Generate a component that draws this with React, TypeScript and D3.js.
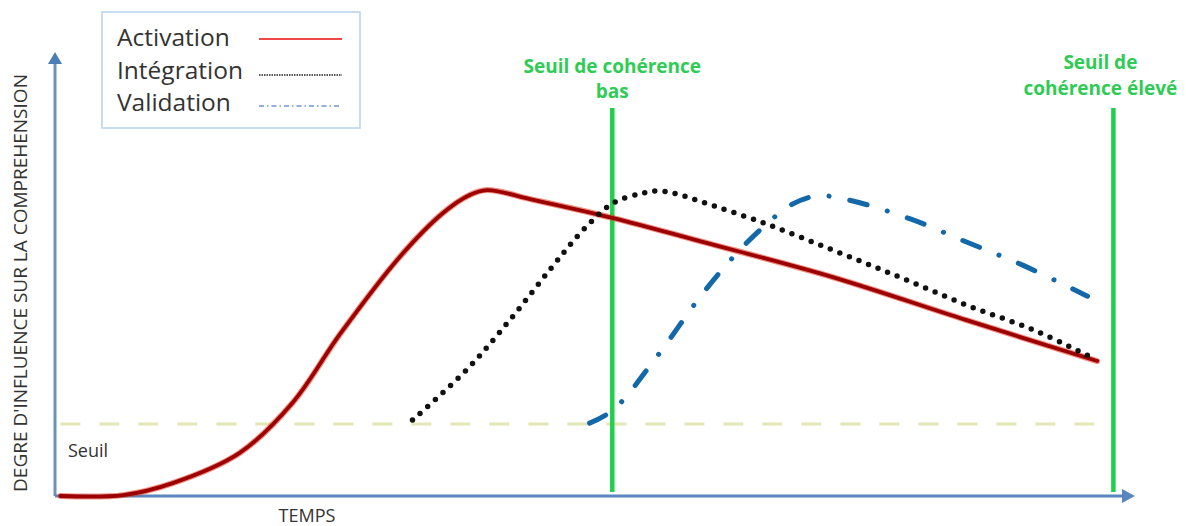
import React from "react";
import * as d3 from "d3";

// Time (x) and degree of influence (y), both in 0..100 units
const activationX = [0.5, 6.3, 10.9, 17.1, 22.0, 26.4, 31.9, 35.9, 38.4, 40.0, 44.3, 51.7, 59.7, 72.0, 84.4, 96.5];
const activationY = [0, 0.2, 2.9, 9.7, 21.0, 36.5, 53.8, 63.7, 67.8, 68.9, 66.7, 62.6, 57.4, 49.3, 39.6, 30.4];

const integrationX = [33.1, 38.1, 42.1, 45.8, 48.9, 51.7, 54.4, 56.0, 57.6, 59.7, 65.6, 72.0, 78.2, 84.4, 90.6, 96.1];
const integrationY = [17.1, 28.4, 39.6, 50.9, 59.9, 66.0, 68.2, 68.7, 68.0, 66.4, 61.5, 55.4, 49.3, 43.0, 37.4, 31.1];

const validationX = [49.5, 51.7, 55.7, 60.0, 63.4, 66.0, 68.1, 70.6, 73.6, 79.2, 84.4, 89.6, 95.6];
const validationY = [16.4, 19.4, 31.3, 45.7, 55.4, 61.5, 65.5, 67.6, 66.6, 62.4, 57.2, 52.0, 45.0];

const seuilLevel = 16.2;
const seuilStart = 0.5;
const seuilEnd = 98;
const coherenceBas = 51.6;
const coherenceEleve = 98;
const coherenceTop = 87.4;
const coherenceBottom = 0.9;

const legendLabels = ["Activation", "Intégration", "Validation"];
const yAxisTitle = "DEGRE D'INFLUENCE SUR LA COMPREHENSION";
const xAxisTitle = "TEMPS";
const seuilLabel = "Seuil";
const basLabel = ["Seuil de cohérence", "bas"];
const eleveLabel = ["Seuil de", "cohérence élevé"];

const W = 1186;
const H = 526;

export default function App() {
  const x = d3.scaleLinear().domain([0, 100]).range([55, 1135]);
  const y = d3.scaleLinear().domain([0, 100]).range([496, 52]);
  const line = d3
    .line<[number, number]>()
    .x((d) => x(d[0]))
    .y((d) => y(d[1]))
    .curve(d3.curveCatmullRom.alpha(0.5));
  const zip = (a: number[], b: number[]) => a.map((v, i) => [v, b[i]] as [number, number]);

  const act = line(zip(activationX, activationY)) || "";
  const integ = line(zip(integrationX, integrationY)) || "";
  const valid = line(zip(validationX, validationY)) || "";

  const axisColor = "#5a86be";
  const green = "#1fd04a";
  const textFont = "'Open Sans', sans-serif";

  const x0 = x(0);
  const y0 = y(0);
  const xEnd = x(100);
  const yTop = y(100);

  return (
    <svg width={W} height={H} style={{ position: "absolute", left: 0, top: 0, background: "#fff" }}>
      {/* threshold dashed line */}
      <line
        x1={x(seuilStart)}
        x2={x(seuilEnd)}
        y1={y(seuilLevel)}
        y2={y(seuilLevel)}
        stroke="#e2e7b4"
        strokeWidth={3}
        strokeDasharray="20 19"
      />
      {/* axes */}
      <line x1={x0} x2={x0} y1={y0} y2={yTop + 10} stroke="#6f92ba" strokeWidth={3} />
      <path d={`M${x0 - 7},${yTop + 12} L${x0},${yTop} L${x0 + 7},${yTop + 12} Z`} fill="#4a7fb5" />
      <line x1={x0} x2={xEnd - 10} y1={y0} y2={y0} stroke={axisColor} strokeWidth={3} />
      <path d={`M${xEnd - 13},${y0 - 7} L${xEnd},${y0} L${xEnd - 13},${y0 + 7} Z`} fill={axisColor} />

      {/* coherence thresholds */}
      <line x1={x(coherenceBas)} x2={x(coherenceBas)} y1={y(coherenceTop)} y2={y(coherenceBottom)} stroke={green} strokeWidth={4.5} />
      <line x1={x(coherenceEleve)} x2={x(coherenceEleve)} y1={y(coherenceTop)} y2={y(coherenceBottom)} stroke={green} strokeWidth={4.5} />

      {/* curves */}
      <path d={act} fill="none" stroke="#e4341e" strokeWidth={6} strokeOpacity={0.55} strokeLinecap="round" />
      <path d={act} fill="none" stroke="#9c0000" strokeWidth={3.8} strokeLinecap="round" />
      <path d={integ} fill="none" stroke="#111" strokeWidth={5.5} strokeDasharray="0 10.3" strokeLinecap="round" />
      <path d={valid} fill="none" stroke="#1268a8" strokeWidth={5} strokeDasharray="18 21 0.1 21" strokeLinecap="round" />

      {/* green labels */}
      <g fontFamily={textFont} fontWeight="bold" fontSize={19} fill="#2fcc55" textAnchor="middle">
        <text x={x(coherenceBas)} y={73}>{basLabel[0]}</text>
        <text x={x(coherenceBas)} y={98}>{basLabel[1]}</text>
        <text x={x(coherenceEleve) - 13} y={69}>{eleveLabel[0]}</text>
        <text x={x(coherenceEleve) - 13} y={95}>{eleveLabel[1]}</text>
      </g>

      {/* axis titles */}
      <text
        transform={`translate(27,${283}) rotate(-90)`}
        textAnchor="middle"
        fontFamily={textFont}
        fontSize={19}
        fill="#333"
      >
        {yAxisTitle}
      </text>
      <text x={307} y={522} textAnchor="middle" fontFamily={textFont} fontSize={18} fill="#333">
        {xAxisTitle}
      </text>
      <text x={68} y={457} fontFamily={textFont} fontSize={18} fill="#333">
        {seuilLabel}
      </text>

      {/* legend */}
      <rect x={102} y={12} width={258} height={116} fill="#fff" stroke="#b4d2ee" strokeWidth={1.5} />
      <g fontFamily={textFont} fontSize={24.5} fill="#333">
        {legendLabels.map((l, i) => (
          <text key={l} x={117} y={46 + i * 32.5}>
            {l}
          </text>
        ))}
      </g>
      <line x1={259} x2={342} y1={39} y2={39} stroke="#f04848" strokeWidth={2} />
      <line x1={259} x2={342} y1={75} y2={75} stroke="#222" strokeWidth={1.5} strokeDasharray="1.5 1" />
      <line x1={259} x2={342} y1={106} y2={106} stroke="#6f95d6" strokeWidth={1.5} strokeDasharray="5 3 1.5 3" />
    </svg>
  );
}
